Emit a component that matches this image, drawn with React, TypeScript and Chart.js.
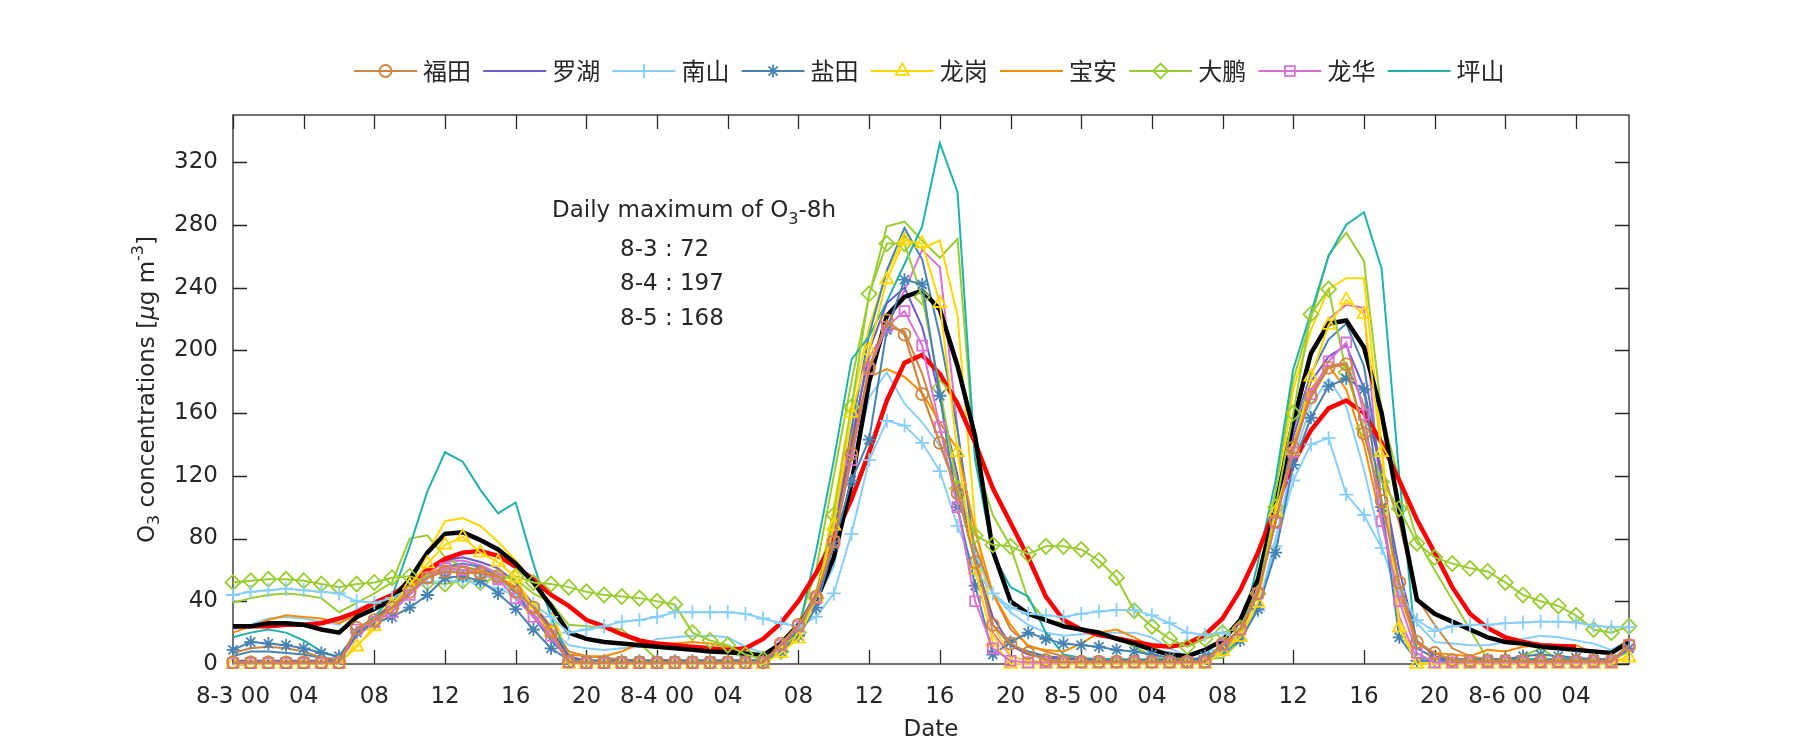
import React, { useEffect, useRef } from "react";
import { Chart, registerables } from "chart.js";
import { drawPoint } from "chart.js/helpers";

Chart.register(...registerables);

// ---------------- data ----------------
// hours since 8-3 00:00
const HOURS = [
  0, 1, 2, 3, 4, 5, 6, 7, 8, 9, 10, 11, 12, 13, 14, 15, 16, 17, 18, 19,
  20, 21, 22, 23, 24, 25, 26, 27, 28, 29, 30, 31, 32, 33, 34, 35, 36, 37, 38, 39,
  40, 41, 42, 43, 44, 45, 46, 47, 48, 49, 50, 51, 52, 53, 54, 55, 56, 57, 58, 59,
  60, 61, 62, 63, 64, 65, 66, 67, 68, 69, 70, 71, 72, 73, 74, 75, 76, 77, 78, 79,
];
const X_TICKS = [0, 4, 8, 12, 16, 20, 24, 28, 32, 36, 40, 44, 48, 52, 56, 60, 64, 68, 72, 76];
const X_TICK_LABELS = [
  "8-3 00", "04", "08", "12", "16", "20",
  "8-4 00", "04", "08", "12", "16", "20",
  "8-5 00", "04", "08", "12", "16", "20",
  "8-6 00", "04",
];
const Y_TICKS = [0, 40, 80, 120, 160, 200, 240, 280, 320];
const DISTRICTS = ["福田", "罗湖", "南山", "盐田", "龙岗", "宝安", "大鹏", "龙华", "坪山"];
const DAILY_MAX_DAYS = ["8-3", "8-4", "8-5"];
const DAILY_MAX_VALUES = [72, 197, 168];

const futianObs = [1, 1, 1, 1, 1, 1, 1, 23, 28, 36, 46, 55, 59, 58, 58, 56, 46, 36, 21, 1.5, 1,
  1, 1, 1, 1, 1, 1, 1, 1, 1, 1,
  13, 25, 43, 78, 134, 189, 219, 210, 172, 141, 109, 65, 25, 13, 7,
  2.5, 1.5, 1.5, 1.5, 1.5, 1.5, 1.5, 1.5, 1.5, 1.5,
  13, 22, 45, 91, 138, 170, 189, 191, 147, 104, 52, 14, 7,
  2.5, 2, 2, 2, 2, 2, 2, 2, 2, 2, 12];
const futianSim = [7, 10, 11, 10, 8, 4, 2, 22, 30, 38, 48, 57, 62, 62, 60, 56, 48, 38, 24, 8, 5,
  4, 3, 2, 2, 2, 2, 2, 2, 2, 2,
  10, 22, 42, 80, 138, 185, 215, 212, 185, 150, 115, 75, 45, 22, 12,
  8, 5, 3, 2, 2, 2, 2, 2, 2, 3,
  10, 22, 48, 95, 140, 172, 190, 192, 165, 125, 90, 42, 25,
  10, 5, 3, 2, 2, 2, 2, 2, 2, 2, 10];
const luohu = [2, 2, 2, 2, 2, 2, 2, 20, 28, 38, 50, 60, 66, 68, 65, 61, 52, 38, 22, 5, 2,
  2, 2, 2, 2, 2, 2, 2, 2, 2, 2,
  12, 25, 45, 85, 140, 200, 230, 240, 215, 170, 120, 65, 30, 12, 6,
  4, 3, 3, 2, 2, 2, 2, 2, 2, 3,
  12, 22, 45, 95, 145, 180, 196, 203, 176, 120, 60, 15, 5,
  2, 2, 2, 2, 2, 2, 2, 2, 2, 2, 10];
const nanshanObs = [44, 46, 47, 48, 47, 46, 45, 40, 39, 42, 48, 52, 53, 53, 51, 48, 44, 38, 30, 20, 22,
  24, 27, 28, 30, 33, 33, 33, 33, 32, 29,
  26, 24, 30, 45, 83, 130, 155, 152, 141, 123, 88, 60, 45, 36, 32,
  31, 30, 32, 33.5, 34.5, 34.5, 31, 26, 20, 18.5,
  20, 16, 34, 75, 117, 140, 144, 108, 95, 74, 46, 28, 21,
  24, 25, 25, 26, 26.5, 27, 27, 26.5, 24.5, 23.5, 23.5];
const nanshanSim = [22, 25, 29, 30, 29, 27, 25, 35, 39, 45, 52, 57, 60, 59, 57, 53, 47, 38, 22, 12, 10,
  9, 10, 11, 16, 17, 18, 18, 17, 11, 7,
  10, 22, 40, 62, 120, 170, 186, 166, 154, 139, 110, 70, 45, 33, 25,
  20, 18, 19, 20, 20, 20, 17, 10, 5, 8,
  10, 16, 35, 80, 130, 165, 182, 164, 124, 75, 41, 26, 14,
  13, 12, 12, 14, 16, 18, 17, 15, 13, 9, 15];
const yantianObs = [9, 14, 13, 12, 10, 7, 5, 20, 26, 30, 36, 44, 55, 56, 53, 45, 35, 22, 10, 2.5, 2,
  2, 2, 2, 2, 2, 2, 2, 2, 2, 2,
  8, 18, 36, 76, 117, 143, 213, 245, 242, 171, 100, 50, 6, 14, 20,
  16, 13, 12, 11, 9, 8, 6, 4, 1.5, 5,
  10, 15, 35, 71, 127, 157, 177, 182, 175, 100, 17, 2, 2,
  2, 2, 3, 3, 5, 6, 5, 4, 3, 3, 10];
const yantianSim = [5, 8, 8, 7, 6, 4, 3, 18, 28, 36, 45, 55, 62, 64, 62, 56, 45, 30, 15, 4, 2,
  2, 2, 2, 2, 2, 2, 2, 2, 2, 2,
  10, 22, 40, 80, 150, 210, 251, 278, 258, 209, 149, 70, 25, 12, 8,
  5, 4, 3, 3, 3, 2, 2, 2, 2, 3,
  10, 20, 45, 95, 150, 185, 207, 217, 190, 120, 50, 10, 4,
  3, 3, 3, 3, 3, 3, 3, 3, 3, 3, 10];
const longgangObs = [0, 0, 0, 0, 0, 0, 0, 11, 24, 38, 50, 64, 76, 81, 71, 65, 55, 35, 20, 0, 0,
  0, 0, 0, 0, 0, 0, 0, 0, 0, 0,
  7, 16, 42, 88, 160, 200, 245, 270, 268, 230, 135, 60, 14, 0, 0,
  0, 0, 0, 0, 0, 0, 0, 0, 0, 0,
  8, 17, 39, 97, 136, 183, 216, 232, 223, 135, 23, 0, 0,
  0, 0, 0, 0, 0, 0, 0, 0, 0, 0, 4];
const longgangSim = [1, 1, 1, 1, 1, 1, 1, 12, 22, 35, 52, 71, 91, 93, 88, 78, 66, 52, 35, 5, 1,
  1, 1, 1, 1, 1, 1, 1, 1, 1, 1,
  8, 20, 45, 100, 165, 215, 250, 272, 265, 270, 222, 90, 25, 5, 2,
  1, 1, 1, 1, 1, 1, 1, 1, 1, 1,
  8, 18, 45, 100, 175, 213, 239, 246, 246, 140, 25, 1, 1,
  1, 1, 1, 1, 1, 1, 1, 1, 1, 1, 5];
const baoan = [20, 24, 28, 31, 30, 29, 26, 31, 37, 43, 49, 58, 61, 60, 59, 56, 49, 38, 17, 6, 5,
  5, 8, 13, 13, 13, 14, 13, 11, 8, 6,
  13, 26, 45, 90, 145, 183, 188, 183, 173, 154, 137, 85, 45, 25, 11,
  9, 8, 13, 20, 22, 17, 11, 5, 2, 3,
  10, 20, 45, 90, 140, 175, 190, 175, 140, 90, 45, 13, 7,
  6, 5, 9, 8, 11, 12, 12, 12, 7, 7, 16];
const dapengObs = [52, 53, 54, 54, 53, 51, 49, 51, 52, 55, 56, 52, 51, 53, 52, 55, 56, 52, 51, 49, 46,
  44, 43, 42, 40, 38, 20, 15, 12, 6, 3,
  8, 20, 42, 95, 164, 236, 268, 268, 234, 176, 112, 82, 76, 75, 70,
  75, 75, 73, 66, 55, 34, 24, 16, 11, 16,
  20, 23, 45, 100, 160, 223, 239, 186, 150, 116, 99, 77, 68,
  64, 61, 59, 52, 44, 40, 37, 31, 22, 20, 24];
const dapengSim = [39, 42, 44, 45, 44, 42, 33, 39, 45, 52, 80, 82, 68, 62, 58, 56, 54, 45, 39, 25, 24,
  23, 22, 13, 3, 2, 2, 2, 2, 2, 3,
  8, 25, 60, 120, 180, 235, 279, 282, 270, 259, 271, 130, 95, 75, 41,
  28, 26, 22, 21, 17, 11, 5, 2, 2, 3,
  4, 15, 55, 110, 181, 220, 261, 275, 257, 160, 117, 80, 60,
  41, 22, 3, 2, 5, 10, 3, 2, 2, 2, 8];
const longhuaObs = [0.5, 0.5, 0.5, 0.5, 0.5, 0.5, 0.5, 22, 27, 33, 44, 55, 61, 60, 58, 54, 42, 30, 18, 1, 0.5,
  0.5, 0.5, 0.5, 0.5, 0.5, 0.5, 0.5, 0.5, 0.5, 1,
  12, 24, 42, 78, 130, 188, 215, 225, 203, 151, 100, 40, 10, 2, 1,
  1, 1, 1, 1, 1, 1, 1, 1, 1, 1,
  12, 22, 45, 90, 135, 172, 193, 205, 159, 91, 40, 7, 1,
  1, 1, 1, 1, 1, 1, 1, 1, 1, 1, 12];
const longhuaSim = [1, 1, 1, 1, 1, 1, 1, 18, 26, 34, 46, 58, 65, 66, 63, 58, 46, 32, 18, 2, 1,
  1, 1, 1, 1, 1, 1, 1, 1, 1, 2,
  10, 22, 42, 85, 145, 195, 215, 238, 264, 253, 150, 70, 20, 5, 2,
  1, 1, 1, 1, 1, 1, 1, 1, 1, 2,
  10, 22, 45, 95, 150, 196, 220, 229, 227, 100, 30, 3, 1,
  1, 1, 1, 1, 1, 1, 1, 1, 1, 1, 10];
const pingshan = [17, 20, 22, 20, 15, 8, 4, 21, 30, 43, 75, 110, 135, 129, 111, 96, 103, 64, 30, 3, 2,
  2, 2, 2, 2, 2, 2, 2, 2, 2, 3,
  6, 21, 72, 130, 194, 209, 231, 255, 279, 332, 301, 130, 70, 49, 43,
  20, 6, 4, 3, 3, 3, 3, 3, 3, 4,
  6, 16, 65, 117, 188, 224, 260, 280, 288, 252, 120, 4, 3,
  3, 3, 3, 3, 3, 3, 3, 3, 3, 3, 10];
const cityMean = [24, 24, 26, 26, 25, 22, 20, 30, 35, 41, 54, 71, 83, 84, 79, 73, 64, 52, 37, 20, 16,
  14, 13, 12, 11, 10, 9, 8, 7.5, 6.5, 5.5,
  13, 25, 40, 68, 115, 180, 222, 234, 238, 226, 190, 145, 72, 40, 32,
  28, 24, 22, 20, 16, 13, 9, 6, 5, 9,
  15, 28, 54, 100, 155, 198, 217, 219, 202, 160, 98, 41, 32,
  27, 22, 17, 14, 13, 11, 10, 9, 8, 7, 14];
const o3_8h = [24, 24, 24, 25, 25, 26, 29, 33, 39, 44, 52, 60, 67, 71, 72, 69, 62, 54, 44, 37, 28,
  24, 19, 15, 13, 12, 11, 10, 9, 10, 16,
  26, 40, 58, 80, 105, 135, 168, 192, 197, 185, 166, 141, 112, 90, 68,
  43, 28, 22, 18.5, 16.5, 14, 12, 11, 13, 18.5,
  29, 47, 71, 100, 128, 149, 163, 168, 160, 141, 117, 92, 71,
  49, 32, 23, 17, 14, 12, 11.5, 11, null, null, null];

// ---------------- styles ----------------
const FONT = "'DejaVu Sans', 'Noto Sans', sans-serif";
const CJK = "'Noto Sans CJK SC', 'Noto Sans', sans-serif";
const AXIS = "#262626";
const COLORS = ["#CD853F", "#6A5ACD", "#87CEFA", "#4682B4", "#FFD700", "#FF8C00", "#9ACD32", "#DA70D6", "#20B2AA"];
const MARKERS: (string | null)[] = ["circle", null, "cross", "star", "triangle", null, "rectRot", "rect", null];
const RADII = [6, 0, 7, 6.5, 7.5, 0, 7.5, 7, 0];

type Series = { data: (number | null)[]; color: string; marker: string | null; radius: number; width: number; order: number };

const SERIES: Series[] = [
  { data: futianObs, color: COLORS[0], marker: MARKERS[0], radius: RADII[0], width: 2.2, order: 0 },
  { data: longhuaObs, color: COLORS[7], marker: MARKERS[7], radius: RADII[7], width: 2, order: 1 },
  { data: longgangObs, color: COLORS[4], marker: MARKERS[4], radius: RADII[4], width: 2, order: 2 },
  { data: yantianObs, color: COLORS[3], marker: MARKERS[3], radius: RADII[3], width: 2, order: 3 },
  { data: nanshanObs, color: COLORS[2], marker: MARKERS[2], radius: RADII[2], width: 2, order: 4 },
  { data: dapengObs, color: COLORS[6], marker: MARKERS[6], radius: RADII[6], width: 2, order: 5 },
  { data: cityMean, color: "#000000", marker: null, radius: 0, width: 4.5, order: 6 },
  { data: o3_8h, color: "#FF0000", marker: null, radius: 0, width: 4.5, order: 7 },
  { data: luohu, color: COLORS[1], marker: null, radius: 0, width: 2, order: 8 },
  { data: baoan, color: COLORS[5], marker: null, radius: 0, width: 2, order: 9 },
  { data: pingshan, color: COLORS[8], marker: null, radius: 0, width: 2, order: 10 },
  { data: futianSim, color: COLORS[0], marker: null, radius: 0, width: 2, order: 11 },
  { data: nanshanSim, color: COLORS[2], marker: null, radius: 0, width: 2, order: 12 },
  { data: yantianSim, color: COLORS[3], marker: null, radius: 0, width: 2, order: 13 },
  { data: longgangSim, color: COLORS[4], marker: null, radius: 0, width: 2, order: 14 },
  { data: dapengSim, color: COLORS[6], marker: null, radius: 0, width: 2, order: 15 },
  { data: longhuaSim, color: COLORS[7], marker: null, radius: 0, width: 2, order: 16 },
];

type Part = { t: string; size: number; dy?: number; italic?: boolean };

function richWidth(ctx: CanvasRenderingContext2D, parts: Part[]) {
  let w = 0;
  for (const p of parts) {
    ctx.font = `${p.italic ? "italic " : ""}${p.size}px ${FONT}`;
    w += ctx.measureText(p.t).width;
  }
  return w;
}
function drawRich(ctx: CanvasRenderingContext2D, parts: Part[], x: number, y: number) {
  let cx = x;
  for (const p of parts) {
    ctx.font = `${p.italic ? "italic " : ""}${p.size}px ${FONT}`;
    ctx.fillText(p.t, cx, y + (p.dy || 0));
    cx += ctx.measureText(p.t).width;
  }
}

const TICK_LEN = 14;

const decorPlugin = {
  id: "decor",
  beforeDatasetsDraw(chart: any) {
    const { ctx, chartArea: a, scales } = chart;
    ctx.save();
    ctx.strokeStyle = AXIS;
    ctx.lineWidth = 1.3;
    ctx.strokeRect(a.left, a.top, a.right - a.left, a.bottom - a.top);
    ctx.beginPath();
    for (const h of X_TICKS) {
      const x = Math.round(scales.x.getPixelForValue(h)) + 0.5;
      ctx.moveTo(x, a.bottom); ctx.lineTo(x, a.bottom - TICK_LEN);
      ctx.moveTo(x, a.top); ctx.lineTo(x, a.top + TICK_LEN);
    }
    for (const v of Y_TICKS) {
      const y = Math.round(scales.y.getPixelForValue(v)) + 0.5;
      ctx.moveTo(a.left, y); ctx.lineTo(a.left + TICK_LEN, y);
      ctx.moveTo(a.right, y); ctx.lineTo(a.right - TICK_LEN, y);
    }
    ctx.stroke();
    ctx.restore();
  },
  afterDraw(chart: any) {
    const { ctx, chartArea: a } = chart;
    ctx.save();
    ctx.fillStyle = AXIS;

    // legend
    const ly = 71;
    DISTRICTS.forEach((name, i) => {
      const x0 = 354 + i * 129.2;
      ctx.strokeStyle = COLORS[i];
      ctx.lineWidth = 2;
      ctx.beginPath();
      ctx.moveTo(x0, ly);
      ctx.lineTo(x0 + 63, ly);
      ctx.stroke();
      if (MARKERS[i]) {
        ctx.fillStyle = "rgba(0,0,0,0)";
        ctx.lineWidth = 1.8;
        drawPoint(ctx, { pointStyle: MARKERS[i], radius: RADII[i], rotation: 0, borderWidth: 1.8 } as any, x0 + 31.5, ly);
      }
      ctx.fillStyle = AXIS;
      ctx.font = `24px ${CJK}`;
      ctx.textAlign = "left";
      ctx.textBaseline = "middle";
      ctx.fillText(name, x0 + 69, ly);
    });

    // x title
    ctx.font = `23px ${FONT}`;
    ctx.textAlign = "center";
    ctx.textBaseline = "middle";
    ctx.fillText("Date", (a.left + a.right) / 2, 730);

    // y title
    ctx.textAlign = "left";
    ctx.textBaseline = "middle";
    const yParts: Part[] = [
      { t: "O", size: 23 },
      { t: "3", size: 16, dy: 7 },
      { t: " concentrations [", size: 23 },
      { t: "μ", size: 23, italic: true },
      { t: "g m", size: 23 },
      { t: "-3", size: 16, dy: -9 },
      { t: "]", size: 23 },
    ];
    const yw = richWidth(ctx, yParts);
    ctx.save();
    ctx.translate(148, (a.top + a.bottom) / 2);
    ctx.rotate(-Math.PI / 2);
    drawRich(ctx, yParts, -yw / 2, 0);
    ctx.restore();

    // annotation
    drawRich(ctx, [
      { t: "Daily maximum of O", size: 23 },
      { t: "3", size: 16, dy: 9 },
      { t: "-8h", size: 23 },
    ], 552, 211);
    const rowsY = [250, 284.5, 319];
    DAILY_MAX_DAYS.forEach((d, i) => {
      ctx.font = `23px ${FONT}`;
      ctx.fillText(`${d} : ${DAILY_MAX_VALUES[i]}`, 620, rowsY[i]);
    });
    ctx.restore();
  },
};

export default function App() {
  const ref = useRef<HTMLCanvasElement>(null);
  useEffect(() => {
    const canvas = ref.current;
    if (!canvas) return;
    const datasets = SERIES.map((s) => ({
      data: s.data.map((v, i) => ({ x: HOURS[i], y: v })),
      borderColor: s.color,
      backgroundColor: s.color,
      borderWidth: s.width,
      pointStyle: s.marker || "circle",
      pointRadius: s.marker ? s.radius : 0,
      pointHoverRadius: 0,
      pointBorderColor: s.color,
      pointBackgroundColor: "rgba(0,0,0,0)",
      pointBorderWidth: 1.8,
      tension: 0,
      clip: false as any,
      order: s.order,
      spanGaps: false,
    }));
    const chart = new Chart(canvas, {
      type: "line",
      data: { datasets },
      options: {
        animation: false,
        responsive: false,
        devicePixelRatio: 1,
        events: [],
        layout: { padding: { left: 0, right: 171, top: 115, bottom: 0 } },
        plugins: { legend: { display: false }, tooltip: { enabled: false }, title: { display: false } },
        scales: {
          x: {
            type: "linear",
            min: 0,
            max: 79,
            afterBuildTicks: (s: any) => { s.ticks = X_TICKS.map((v) => ({ value: v })); },
            afterFit: (s: any) => { s.height = 86; },
            grid: { display: false, drawTicks: false },
            border: { display: false },
            ticks: {
              autoSkip: false,
              maxRotation: 0,
              minRotation: 0,
              padding: 19,
              color: AXIS,
              font: { family: FONT, size: 23 },
              callback: (_v: any, i: number) => X_TICK_LABELS[i],
            },
          },
          y: {
            type: "linear",
            min: 0,
            max: 350,
            afterBuildTicks: (s: any) => { s.ticks = Y_TICKS.map((v) => ({ value: v })); },
            afterFit: (s: any) => { s.width = 233; },
            grid: { display: false, drawTicks: false },
            border: { display: false },
            ticks: {
              padding: 15,
              color: AXIS,
              font: { family: FONT, size: 23 },
              callback: (v: any) => String(v),
            },
          },
        },
      },
      plugins: [decorPlugin],
    } as any);
    return () => chart.destroy();
  }, []);
  return (
    <div style={{ position: "fixed", left: 0, top: 0, width: 1800, height: 750, background: "#fff" }}>
      <canvas ref={ref} width={1800} height={750} style={{ width: 1800, height: 750, display: "block" }} />
    </div>
  );
}
